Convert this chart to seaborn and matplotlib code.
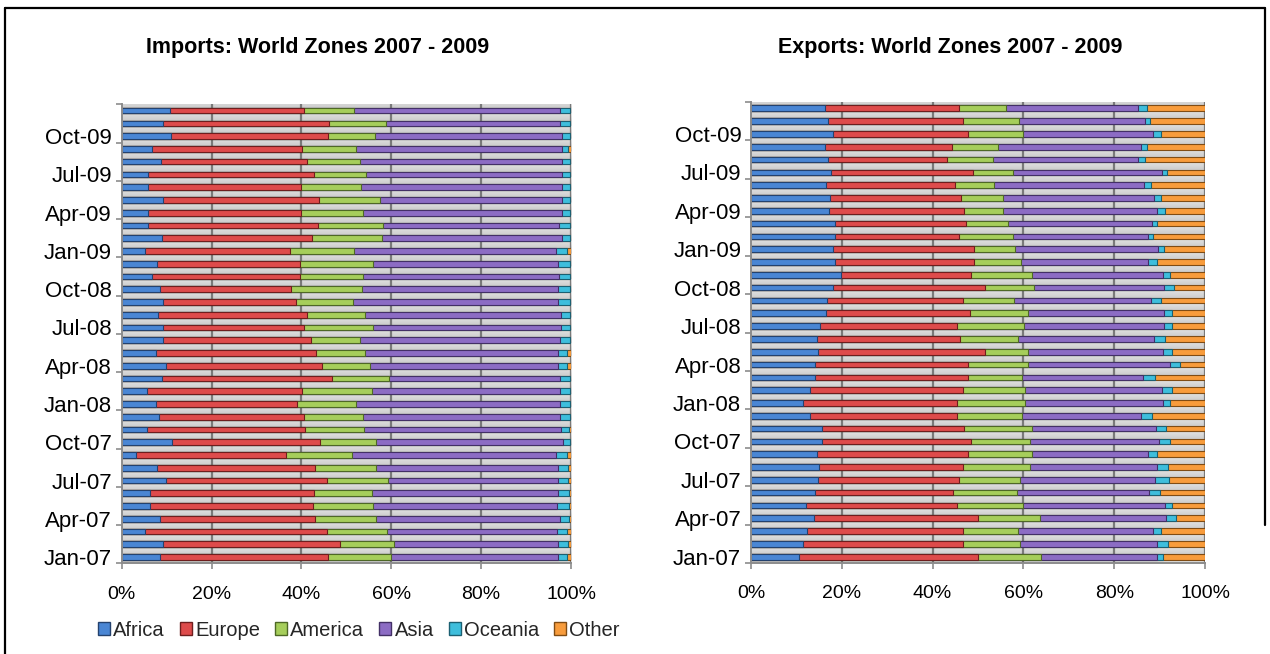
import numpy as np
import pandas as pd
import matplotlib
matplotlib.use("Agg")
import matplotlib.pyplot as plt
from matplotlib.patches import Patch
from matplotlib.lines import Line2D
import seaborn as sns

# ---------------------------------------------------------------------------
# Monthly shares (%) of trade by world zone, Jan-07 .. Dec-09
# ---------------------------------------------------------------------------
months = [
    "Jan-07", "Feb-07", "Mar-07", "Apr-07", "May-07", "Jun-07",
    "Jul-07", "Aug-07", "Sep-07", "Oct-07", "Nov-07", "Dec-07",
    "Jan-08", "Feb-08", "Mar-08", "Apr-08", "May-08", "Jun-08",
    "Jul-08", "Aug-08", "Sep-08", "Oct-08", "Nov-08", "Dec-08",
    "Jan-09", "Feb-09", "Mar-09", "Apr-09", "May-09", "Jun-09",
    "Jul-09", "Aug-09", "Sep-09", "Oct-09", "Nov-09", "Dec-09",
]
zones = ["Africa", "Europe", "America", "Asia", "Oceania", "Other"]
x_ticks = [0, 20, 40, 60, 80, 100]
x_tick_labels = ["0%", "20%", "40%", "60%", "80%", "100%"]

# Imports
imp_africa = [8.5, 9.1, 5.2, 8.5, 6.3, 6.4, 9.8, 7.8, 3.2, 11.3, 5.6, 8.4,
              7.6, 5.6, 8.9, 9.9, 7.6, 9.3, 9.3, 8.0, 9.1, 8.5, 6.7, 7.8,
              5.2, 8.9, 5.9, 5.8, 9.3, 5.9, 5.8, 8.7, 6.7, 10.9, 9.3, 10.8]
imp_europe = [37.5, 39.5, 40.4, 34.5, 36.3, 36.4, 35.8, 35.2, 33.4, 32.8, 35.3, 32.2,
              31.5, 34.5, 37.8, 34.6, 35.6, 32.8, 31.3, 33.2, 29.8, 29.2, 33.0, 31.9,
              32.3, 33.4, 37.9, 34.0, 34.7, 33.9, 37.0, 32.5, 33.4, 35.1, 36.8, 29.8]
imp_america = [13.9, 11.9, 13.4, 13.7, 13.4, 13.0, 13.6, 13.5, 14.7, 12.6, 13.0, 13.2,
               13.0, 15.5, 12.9, 10.8, 10.9, 10.9, 15.4, 12.9, 12.6, 15.7, 14.1, 16.3,
               14.3, 15.7, 14.4, 14.0, 13.6, 13.4, 11.6, 11.8, 12.0, 10.4, 12.7, 11.2]
imp_asia = [37.1, 36.7, 37.8, 40.8, 40.8, 41.2, 38.0, 40.7, 45.4, 41.6, 43.8, 43.7,
            45.4, 41.9, 37.9, 41.9, 43.1, 44.5, 41.7, 43.6, 45.7, 43.8, 43.6, 41.2,
            44.9, 39.9, 39.2, 44.1, 40.3, 44.7, 43.5, 44.9, 45.8, 41.5, 38.7, 45.7]
imp_oceania = [2.0, 2.1, 2.4, 2.1, 2.7, 2.5, 2.2, 2.2, 2.3, 1.5, 1.9, 2.2,
               2.2, 2.2, 2.2, 1.8, 2.0, 2.2, 2.1, 2.1, 2.5, 2.5, 2.3, 2.5,
               2.3, 1.9, 2.3, 1.9, 1.9, 1.9, 1.9, 1.9, 1.5, 1.9, 2.3, 2.3]
imp_other = [1.0, 0.7, 0.8, 0.4, 0.5, 0.5, 0.6, 0.6, 1.0, 0.2, 0.4, 0.3,
             0.3, 0.3, 0.3, 1.0, 0.8, 0.3, 0.2, 0.2, 0.3, 0.3, 0.3, 0.3,
             1.0, 0.2, 0.3, 0.2, 0.2, 0.2, 0.2, 0.2, 0.6, 0.2, 0.2, 0.2]

# Exports
exp_africa = [10.6, 11.5, 12.4, 13.9, 12.1, 14.2, 14.8, 15.0, 14.5, 15.6, 15.7, 13.1,
              11.5, 13.1, 14.1, 14.1, 14.7, 14.5, 15.2, 16.5, 16.8, 18.1, 19.8, 18.6,
              18.1, 18.6, 18.4, 17.2, 17.4, 16.5, 17.6, 17.0, 16.2, 18.1, 17.0, 16.3]
exp_europe = [39.5, 35.1, 34.2, 36.2, 33.2, 30.4, 31.1, 31.6, 33.2, 32.9, 31.2, 32.2,
              33.8, 33.7, 33.6, 33.6, 36.8, 31.5, 30.2, 31.7, 30.0, 33.4, 28.6, 30.6,
              31.0, 27.2, 29.0, 29.7, 28.8, 28.4, 31.2, 26.1, 28.0, 29.8, 29.8, 29.5]
exp_america = [13.8, 12.7, 12.3, 13.6, 14.7, 14.1, 13.4, 14.9, 14.3, 13.0, 15.1, 14.5,
               15.1, 13.6, 12.1, 13.4, 9.6, 12.9, 14.7, 12.9, 11.1, 10.8, 13.4, 10.3,
               9.0, 11.8, 9.1, 8.7, 9.2, 8.7, 8.8, 10.3, 10.1, 12.1, 12.3, 10.3]
exp_asia = [25.6, 30.1, 29.7, 27.7, 31.2, 29.0, 29.7, 27.9, 25.4, 28.4, 27.1, 26.2,
            30.4, 30.1, 26.6, 31.2, 29.7, 29.9, 30.9, 29.9, 30.2, 28.7, 29.0, 28.0,
            31.6, 29.9, 31.8, 33.9, 33.4, 33.0, 32.9, 31.9, 31.5, 28.6, 27.7, 29.2]
exp_oceania = [1.2, 2.4, 1.8, 2.2, 1.5, 2.4, 3.1, 2.4, 2.1, 2.5, 2.2, 2.3,
               1.5, 2.2, 2.6, 2.2, 1.9, 2.3, 1.8, 1.7, 2.1, 2.2, 1.5, 1.9,
               1.3, 1.1, 1.1, 1.7, 1.4, 1.4, 1.1, 1.5, 1.4, 1.6, 1.1, 1.9]
exp_other = [9.3, 8.2, 9.6, 6.4, 7.3, 9.9, 7.9, 8.2, 10.5, 7.6, 8.7, 11.7,
             7.7, 7.3, 11.0, 5.5, 7.3, 8.9, 7.2, 7.3, 9.8, 6.8, 7.7, 10.6,
             9.0, 11.4, 10.6, 8.8, 9.8, 12.0, 8.4, 13.2, 12.8, 9.8, 12.1, 12.8]

imports = dict(zip(zones, [imp_africa, imp_europe, imp_america,
                           imp_asia, imp_oceania, imp_other]))
exports = dict(zip(zones, [exp_africa, exp_europe, exp_america,
                           exp_asia, exp_oceania, exp_other]))

# Zone colours: (fill, edge)
zone_colors = {
    "Africa":  ("#4A86D4", "#24426E"),
    "Europe":  ("#DE4B4B", "#6E1E1E"),
    "America": ("#A6CE5B", "#4E6826"),
    "Asia":    ("#8C6CC4", "#433066"),
    "Oceania": ("#3EBEDC", "#1B6072"),
    "Other":   ("#F89C3C", "#804C14"),
}

sns.set_theme(style="white")
plt.rcParams["font.family"] = ["Liberation Sans", "DejaVu Sans"]

W, H = 1270, 654
fig = plt.figure(figsize=(W / 100, H / 100), dpi=100)
fig.patch.set_facecolor("white")

GRID = "#7A7A7A"
AXIS = "#8C8C8C"


def fig_rect(x0, x1, y_top, y_bot):
    return [x0 / W, 1 - y_bot / H, (x1 - x0) / W, (y_bot - y_top) / H]


def draw_panel(ax, shares, title, title_x):
    n = len(months)
    order = months[::-1]  # latest month at the top
    df = pd.DataFrame(shares, index=months)
    pct = df.div(df.sum(axis=1), axis=0) * 100
    cum = pct.cumsum(axis=1)
    cum["month"] = months

    # soft striped plot-area backdrop
    rows_px = 24
    t = (np.arange(n * rows_px) / rows_px) % 1.0
    tt = (t - 0.76) % 1.0
    shade = 0.88 - 0.14 * tt
    img = np.tile(shade[:, None], (1, 4))
    ax.imshow(img, cmap="gray", vmin=0, vmax=1, aspect="auto",
              extent=(0, 100, n - 0.5, -0.5), interpolation="bilinear",
              zorder=0)

    for x in x_ticks[1:]:
        ax.axvline(x, color=GRID, lw=1.6, zorder=0.5)

    # stacked bars: draw cumulative totals from the outermost zone inward
    for zone in reversed(zones):
        fc, ec = zone_colors[zone]
        sns.barplot(data=cum, x=zone, y="month", order=order, orient="y",
                    color=fc, saturation=1, width=0.44, errorbar=None,
                    edgecolor=ec, linewidth=0.8, ax=ax, zorder=2)

    ax.set_xlim(0, 100)
    ax.set_ylim(n - 0.5, -0.5)
    ax.set_xlabel("")
    ax.set_ylabel("")

    ax.set_xticks(x_ticks)
    ax.set_xticklabels(x_tick_labels, fontsize=14, color="black")
    ax.tick_params(axis="x", which="major", direction="out", length=4,
                   width=1.2, color=AXIS, pad=12, bottom=True)

    lab_pos = [order.index(m) for m in order if m[:3] in ("Jan", "Apr", "Jul", "Oct")]
    ax.set_yticks(lab_pos)
    ax.set_yticklabels([order[p] for p in lab_pos], fontsize=16, color="black")
    ax.tick_params(axis="y", which="major", length=0, pad=7, left=False)
    ax.set_yticks(np.arange(-0.5, n, 3), minor=True)
    ax.tick_params(axis="y", which="minor", direction="out", length=4,
                   width=1.2, color=AXIS, left=True)

    for side in ("top", "right"):
        ax.spines[side].set_visible(False)
    for side in ("left", "bottom"):
        ax.spines[side].set_visible(True)
        ax.spines[side].set_color(AXIS)
        ax.spines[side].set_linewidth(1.4)
    ax.grid(False)

    fig.text(title_x / W, 1 - 48 / H, title, ha="center", va="center",
             fontsize=15.5, fontweight="bold", color="black")


ax_imp = fig.add_axes(fig_rect(121.7, 571, 104.3, 563.4))
ax_exp = fig.add_axes(fig_rect(751, 1205, 101.9, 563.1))

draw_panel(ax_imp, imports, "Imports: World Zones 2007 - 2009", 318)
draw_panel(ax_exp, exports, "Exports: World Zones 2007 - 2009", 950)

# legend under the imports chart
handles = [Patch(facecolor=zone_colors[z][0], edgecolor=zone_colors[z][1],
                 linewidth=1.0) for z in zones]
fig.legend(handles, zones, loc="center", bbox_to_anchor=(359 / W, 1 - 630 / H),
           ncol=6, frameon=False, fontsize=14.5, handlelength=0.6,
           handleheight=0.6, handletextpad=0.15, columnspacing=0.75)

# chart frames
def fig_line(xs, ys, lw=1.6):
    fig.add_artist(Line2D([x / W for x in xs], [1 - y / H for y in ys],
                          color="black", lw=lw, transform=fig.transFigure))

fig_line([5, 5], [8, H])
fig_line([5, 1265], [8, 8])
fig_line([1265, 1265], [8, 525])

fig.savefig("out.png", dpi=100, facecolor="white")
